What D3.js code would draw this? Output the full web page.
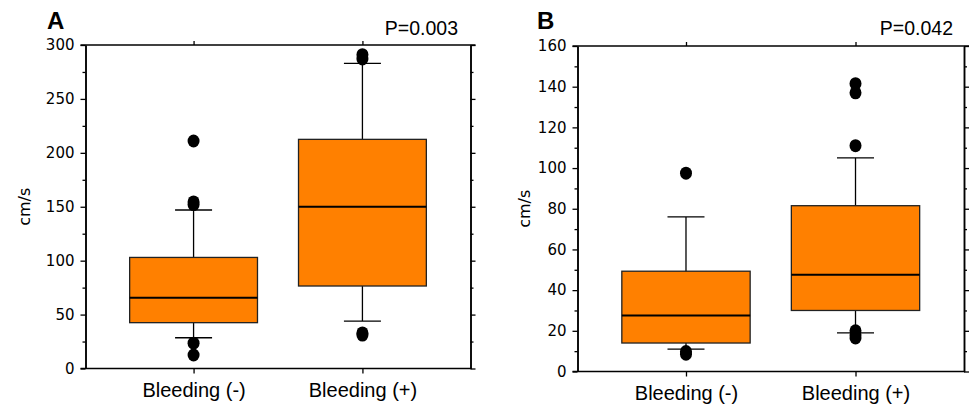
<!DOCTYPE html>
<html>
<head>
<meta charset="utf-8">
<script src="https://cdn.jsdelivr.net/npm/d3@7"></script>
<style>
  body { margin: 0; background: #fff; }
  svg { display: block; }
  .tick text { font-family: "DejaVu Sans", Verdana, sans-serif; font-size: 15px; fill: #000; }
</style>
</head>
<body>
<svg id="chart" width="969" height="406"></svg>
<script>
// Categories and box statistics
const categories = ["Bleeding (-)", "Bleeding (+)"];

// Panel A (cm/s)
const lowA = [28.5, 44];
const q1A = [42.5, 76.5];
const medA = [65.5, 150];
const q3A = [103, 212.5];
const highA = [147, 283];
const outliersA = [[12.5, 23.5, 152, 154.5, 211], [31, 33, 287, 291]];
const yTicksA = [0, 50, 100, 150, 200, 250, 300];
const yMinorA = [25, 75, 125, 175, 225, 275];

// Panel B (cm/s)
const lowB = [11, 19];
const q1B = [14, 30];
const medB = [27.5, 47.5];
const q3B = [49.3, 81.5];
const highB = [76, 105];
const outliersB = [[8.5, 9.8, 97.5], [16.5, 18, 20, 111, 137, 141.5]];
const yTicksB = [0, 20, 40, 60, 80, 100, 120, 140, 160];
const yMinorB = [10, 30, 50, 70, 90, 110, 130, 150];

const pLabels = ["P=0.003", "P=0.042"];
const panelLetters = ["A", "B"];

const svg = d3.select("#chart");

function createBoxPanel(opts) {
    const { left, top, right, bottom, letter, pText, letterX, pX, ylabelX,
            low, q1, med, q3, high, outliers, ticks, minor } = opts;

    const x = d3.scalePoint()
        .domain(categories)
        .range([left, right])
        .padding(0.64);

    const y = d3.scaleLinear()
        .domain([0, ticks[ticks.length - 1]])
        .range([bottom, top]);

    const boxW = x.step() * 0.757;
    const g = svg.append("g");

    // whiskers, boxes, medians, outliers
    categories.forEach((c, i) => {
        const cx = x(c);
        g.append("line")
            .attr("x1", cx).attr("x2", cx)
            .attr("y1", y(high[i])).attr("y2", y(low[i]))
            .attr("stroke", "#000").attr("stroke-width", 1.3);
        [low[i], high[i]].forEach(v => {
            g.append("line")
                .attr("x1", cx - 18.5).attr("x2", cx + 18.5)
                .attr("y1", y(v)).attr("y2", y(v))
                .attr("stroke", "#000").attr("stroke-width", 1.3);
        });
        g.append("rect")
            .attr("x", cx - boxW / 2)
            .attr("width", boxW)
            .attr("y", y(q3[i]))
            .attr("height", y(q1[i]) - y(q3[i]))
            .attr("fill", "#ff8000")
            .attr("stroke", "#222")
            .attr("stroke-width", 1.3);
        g.append("line")
            .attr("x1", cx - boxW / 2).attr("x2", cx + boxW / 2)
            .attr("y1", y(med[i])).attr("y2", y(med[i]))
            .attr("stroke", "#000").attr("stroke-width", 2);
        g.selectAll(null)
            .data(outliers[i])
            .enter()
            .append("ellipse")
            .attr("cx", cx)
            .attr("cy", d => y(d))
            .attr("rx", 6)
            .attr("ry", 6.5)
            .attr("fill", "#000");
    });

    // axes
    const styleAxis = sel => {
        sel.selectAll("path.domain").attr("stroke", "#000").attr("stroke-width", 1.5);
        sel.selectAll(".tick line").attr("stroke", "#000").attr("stroke-width", 1.3);
    };

    g.append("g")
        .attr("transform", `translate(${left},0)`)
        .call(d3.axisLeft(y).tickValues(ticks).tickSize(5).tickSizeOuter(0).tickPadding(6))
        .call(styleAxis);
    g.append("g")
        .attr("transform", `translate(${left},0)`)
        .call(d3.axisLeft(y).tickValues(minor).tickSize(3).tickFormat("").tickSizeOuter(0))
        .call(styleAxis);
    g.append("g")
        .attr("transform", `translate(${right},0)`)
        .call(d3.axisRight(y).tickValues(ticks).tickSize(5).tickFormat("").tickSizeOuter(0))
        .call(styleAxis);
    g.append("g")
        .attr("transform", `translate(${right},0)`)
        .call(d3.axisRight(y).tickValues(minor).tickSize(3).tickFormat("").tickSizeOuter(0))
        .call(styleAxis);

    g.append("g")
        .attr("transform", `translate(0,${bottom})`)
        .call(d3.axisBottom(x).tickSize(5).tickSizeOuter(0).tickPadding(9))
        .call(styleAxis)
        .call(a => a.selectAll("path.domain").attr("d", `M${left - 5},0H${right + 1}`))
        .call(a => a.selectAll(".tick text")
            .style("font-family", "'Liberation Sans', Arial, sans-serif")
            .style("font-size", "20px"));
    g.append("g")
        .attr("transform", `translate(0,${top})`)
        .call(d3.axisTop(x).tickSize(4).tickFormat("").tickSizeOuter(0))
        .call(styleAxis)
        .call(a => a.selectAll("path.domain").attr("d", `M${left - 5},0H${right + 5}`));

    // y label
    g.append("text")
        .attr("transform", `translate(${ylabelX},${(top + bottom) / 2}) rotate(-90)`)
        .attr("text-anchor", "middle")
        .style("font-family", "'DejaVu Sans', Verdana, sans-serif")
        .style("font-size", "16px")
        .text("cm/s");

    // panel letter and p-value
    g.append("text")
        .attr("x", letterX).attr("y", 29)
        .style("font-family", "'Liberation Sans', Arial, sans-serif")
        .style("font-weight", "bold")
        .style("font-size", "24px")
        .text(letter);
    g.append("text")
        .attr("x", pX).attr("y", 35)
        .attr("text-anchor", "end")
        .style("font-family", "'Liberation Sans', Arial, sans-serif")
        .style("font-size", "19.5px")
        .text(pText);
}

createBoxPanel({
    left: 85.5, top: 45, right: 470.5, bottom: 368.5,
    letter: panelLetters[0], pText: pLabels[0], letterX: 47, pX: 458, ylabelX: 30,
    low: lowA, q1: q1A, med: medA, q3: q3A, high: highA, outliers: outliersA,
    ticks: yTicksA, minor: yMinorA
});

createBoxPanel({
    left: 577.5, top: 46, right: 964, bottom: 371.5,
    letter: panelLetters[1], pText: pLabels[1], letterX: 537, pX: 953, ylabelX: 530,
    low: lowB, q1: q1B, med: medB, q3: q3B, high: highB, outliers: outliersB,
    ticks: yTicksB, minor: yMinorB
});
</script>
</body>
</html>
